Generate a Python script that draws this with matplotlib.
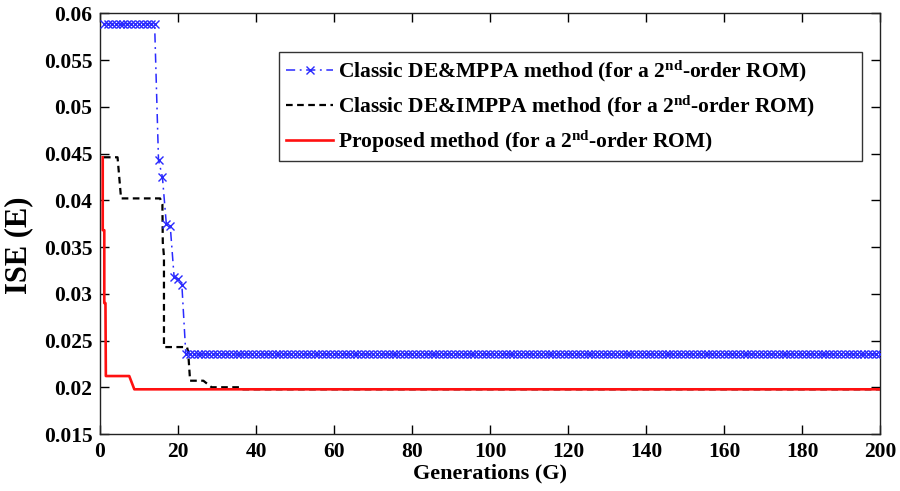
import matplotlib
matplotlib.use("Agg")
import matplotlib.pyplot as plt

plt.rcParams['font.family'] = ['Liberation Serif', 'DejaVu Serif']
plt.rcParams['font.weight'] = 'bold'
plt.rcParams['mathtext.fontset'] = 'custom'
plt.rcParams['mathtext.rm'] = 'Liberation Serif:bold'
plt.rcParams['mathtext.bf'] = 'Liberation Serif:bold'
plt.rcParams['mathtext.it'] = 'Liberation Serif:bold'

# ---- data ----
blue_gen = list(range(1, 201))
blue_ise = ([0.0589] * 14 +
            [0.0443, 0.0425, 0.0375, 0.0373, 0.0318, 0.0316, 0.0309] +
            [0.02357] * 179)

black_gen = [1, 4.5, 5.4, 15.4, 16.0, 16.1, 16.4, 16.4, 22.3, 22.6, 23.1, 26.5,
             28.6, 36.0, 36.5, 200]
black_ise = [0.0446, 0.0446, 0.0402, 0.0402, 0.0396, 0.0355, 0.0340, 0.0243,
             0.0243, 0.0238, 0.0207, 0.0207, 0.0200, 0.0200, 0.01978, 0.01978]

red_gen = [0.7, 0.7, 1.1, 1.1, 1.4, 1.5, 7.5, 8.8, 200]
red_ise = [0.0446, 0.0368, 0.0368, 0.0290, 0.0290, 0.0212, 0.0212, 0.01978, 0.01978]

xticks = list(range(0, 201, 20))
yticks = [0.015, 0.02, 0.025, 0.03, 0.035, 0.04, 0.045, 0.05, 0.055, 0.06]
ytick_labels = ['0.015', '0.02', '0.025', '0.03', '0.035', '0.04', '0.045', '0.05', '0.055', '0.06']

labels = [r'Classic DE&MPPA method (for a 2$^{\mathrm{nd}}$-order ROM)',
          r'Classic DE&IMPPA method (for a 2$^{\mathrm{nd}}$-order ROM)',
          r'Proposed method (for a 2$^{\mathrm{nd}}$-order ROM)']

fig = plt.figure(figsize=(9, 4.91), dpi=100)
ax = fig.add_axes([100/900, 1 - 434/491, 780/900, (434 - 13.3)/491])

ax.plot(blue_gen, blue_ise, color='#2a2aff', linestyle=(0, (6, 3, 1.2, 3)), linewidth=1.1,
        marker='x', markersize=5.5, markeredgewidth=1.0, label=labels[0], zorder=3)
ax.plot(black_gen, black_ise, color='black', linestyle=(0, (3, 2)), linewidth=1.6,
        label=labels[1], zorder=2)
ax.plot(red_gen, red_ise, color='#ff1010', linestyle='-', linewidth=1.9,
        label=labels[2], zorder=4)

ax.set_xlim(0, 200)
ax.set_ylim(0.015, 0.06)
ax.set_xticks(xticks)
ax.set_yticks(yticks)
ax.set_yticklabels(ytick_labels)
ax.tick_params(direction='in', length=6.5, width=1.0, top=True, right=True,
               labelsize=15.5, pad=5.5)
for s in ax.spines.values():
    s.set_linewidth(1.0)
    s.set_color('#222222')

ax.set_xlabel('Generations (G)', fontsize=16, fontweight='bold', labelpad=1)
ax.set_ylabel('ISE (E)', fontsize=22, fontweight='bold')
ax.yaxis.set_label_coords(-0.086, 0.449)

leg = ax.legend(loc='upper left', bbox_to_anchor=(0.2295, 0.654, 0.7475, 0.254),
                mode='expand', fontsize=15.5,
                handlelength=2.2, handletextpad=0.2, labelspacing=0.42,
                borderpad=0.32, borderaxespad=0, fancybox=False, framealpha=1,
                edgecolor='#333333')
leg.get_frame().set_linewidth(1.0)

fig.savefig('out.png', dpi=100)
